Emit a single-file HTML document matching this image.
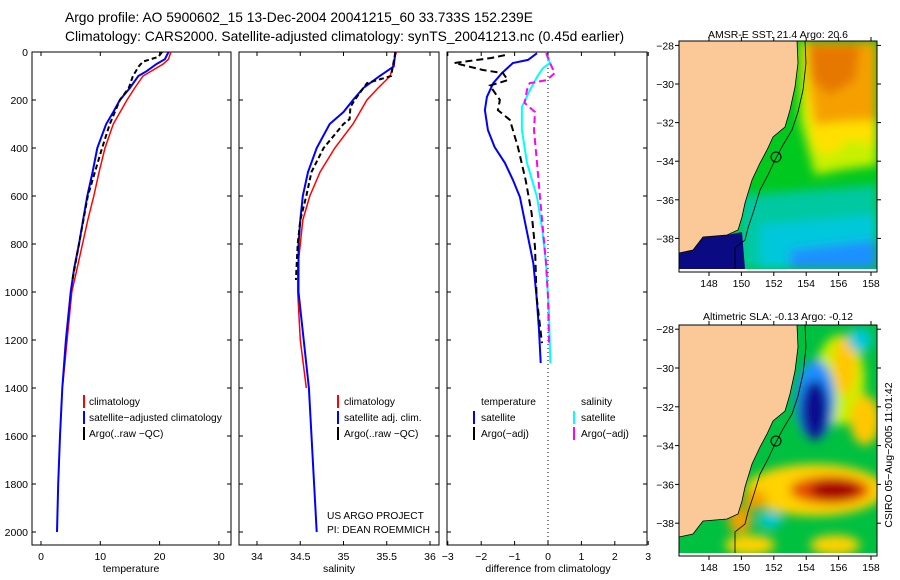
<!DOCTYPE html>
<html><head><meta charset="utf-8">
<style>
body{margin:0;background:#fff;}
svg{display:block;font-family:"Liberation Sans",sans-serif;}
.tk{font-size:10.5px;fill:#000;}
</style></head>
<body>
<svg id="s" width="900" height="580" viewBox="0 0 900 580">
<defs>
<clipPath id="c1"><rect x="679" y="41" width="198" height="228"/></clipPath>
<clipPath id="c2"><rect x="679" y="325" width="198" height="228"/></clipPath>
<filter id="bl" x="-20%" y="-20%" width="140%" height="140%"><feGaussianBlur stdDeviation="5"/></filter>
</defs>
<text x="65" y="22" font-size="13.8">Argo profile: AO 5900602_15 13-Dec-2004 20041215_60 33.733S 152.239E</text>
<text x="65" y="41" font-size="13.8">Climatology: CARS2000. Satellite-adjusted climatology: synTS_20041213.nc (0.45d earlier)</text>

<!-- Map 1 -->
<g>
<text x="778" y="38" font-size="10.5" text-anchor="middle">AMSR-E SST: 21.4 Argo: 20.6</text>
<g clip-path="url(#c1)">
<rect x="679" y="41" width="198" height="228" fill="#00c81e"/>
<g filter="url(#bl)">
<polygon points="740,195 877,185 877,269 740,269" fill="#00c8a0"/>
<polygon points="760,225 877,215 877,269 760,269" fill="#00c8dc"/>
<polygon points="790,250 877,240 877,269 790,269" fill="#1e90ff"/>
<polygon points="800,41 877,41 877,165 840,170 815,175 800,120" fill="#c8f000"/>
<polygon points="803,41 877,41 877,145 850,140 830,155 815,150 805,100" fill="#ffe000"/>
<polygon points="806,41 877,41 877,120 840,122 815,125 808,80" fill="#f5a000"/>
<polygon points="808,45 860,45 855,80 830,95 812,80" fill="#e67800"/>
</g>
<polygon points="679,253 693,250 703,237 727,235 742,232 745,269 679,269" fill="#0a0a82"/>
<polygon points="679,41 797,41 798,63 795,87 790,110 785,127 773,137 767,150 760,163 752,180 745,203 742,217 738,230 727,235 703,237 693,250 679,253" fill="#fbc998" stroke="#000" stroke-width="0.8"/>
<polyline points="805,41 806,63 803,90 798,112 792,130 783,145 775,160 768,175 760,190 754,210 748,228 745,240 735,248 735,269" fill="none" stroke="#000" stroke-width="0.8"/>
<circle cx="776" cy="157" r="5" fill="none" stroke="#000"/>
</g>
<rect x="679" y="41" width="198" height="231" fill="none" stroke="#000"/>
</g>

<!-- Map 2 -->
<g>
<text x="778" y="320" font-size="10.5" text-anchor="middle">Altimetric SLA: -0.13 Argo: -0.12</text>
<g clip-path="url(#c2)">
<rect x="679" y="325" width="198" height="228" fill="#00c040"/>
<g filter="url(#bl)">
<ellipse cx="840" cy="380" rx="25" ry="45" fill="#c8f000"/>
<ellipse cx="845" cy="365" rx="12" ry="30" fill="#ffc800"/>
<ellipse cx="865" cy="420" rx="15" ry="25" fill="#ffc800"/>
<ellipse cx="860" cy="340" rx="12" ry="12" fill="#00c8dc"/>
<ellipse cx="815" cy="400" rx="20" ry="40" fill="#1e90ff"/>
<ellipse cx="815" cy="410" rx="14" ry="30" fill="#0a0a90"/>
<ellipse cx="815" cy="490" rx="70" ry="26" fill="#ffd200"/>
<ellipse cx="830" cy="490" rx="40" ry="14" fill="#e65000"/>
<ellipse cx="835" cy="490" rx="25" ry="10" fill="#a50000"/>
<ellipse cx="740" cy="520" rx="12" ry="14" fill="#f0a000"/>
<ellipse cx="755" cy="500" rx="12" ry="10" fill="#f0a000"/>
<ellipse cx="770" cy="520" rx="12" ry="8" fill="#00c8dc"/>
<ellipse cx="750" cy="545" rx="25" ry="10" fill="#ffd200"/>
<ellipse cx="835" cy="545" rx="25" ry="10" fill="#ffd200"/>
</g>
<g transform="translate(0,284)">
<polygon points="679,41 797,41 798,63 795,87 790,110 785,127 773,137 767,150 760,163 752,180 745,203 742,217 738,230 727,235 703,237 693,250 679,253" fill="#fbc998" stroke="#000" stroke-width="0.8"/>
<polyline points="805,41 806,63 803,90 798,112 792,130 783,145 775,160 768,175 760,190 754,210 748,228 745,240 735,248 735,269" fill="none" stroke="#000" stroke-width="0.8"/>
<circle cx="776" cy="157" r="5" fill="none" stroke="#000"/>
</g>
</g>
<rect x="679" y="325" width="198" height="231" fill="none" stroke="#000"/>
</g>
<text transform="translate(892,455) rotate(-90)" font-size="10.5" text-anchor="middle">CSIRO 05−Aug−2005 11:01:42</text>

<!-- profile panels frames -->
<rect x="32" y="52" width="199" height="493" fill="none" stroke="#000"/>
<rect x="239" y="52" width="200" height="493" fill="none" stroke="#000"/>
<rect x="447" y="52" width="200" height="493" fill="none" stroke="#000"/>
<line x1="548" y1="52" x2="548" y2="545" stroke="#000" stroke-dasharray="1,3"/>
<text x="131" y="572" font-size="10.5" text-anchor="middle">temperature</text>
<text x="339" y="572" font-size="10.5" text-anchor="middle">salinity</text>
<text x="548" y="572" font-size="10.5" text-anchor="middle">difference from climatology</text>

<g font-size="10.2">
<line x1="84" y1="395" x2="84" y2="408" stroke="#f00" stroke-width="2"/><text x="89" y="405">climatology</text>
<line x1="84" y1="411" x2="84" y2="424" stroke="#00f" stroke-width="2"/><text x="89" y="421">satellite−adjusted climatology</text>
<line x1="84" y1="427" x2="84" y2="440" stroke="#000" stroke-width="2"/><text x="89" y="437">Argo(..raw −QC)</text>
</g>
<g font-size="10.2">
<line x1="338" y1="395" x2="338" y2="408" stroke="#f00" stroke-width="2"/><text x="344" y="405">climatology</text>
<line x1="338" y1="411" x2="338" y2="424" stroke="#00f" stroke-width="2"/><text x="344" y="421">satellite adj. clim.</text>
<line x1="338" y1="427" x2="338" y2="440" stroke="#000" stroke-width="2"/><text x="344" y="437">Argo(..raw −QC)</text>
</g>
<g font-size="10.2">
<text x="481" y="405">temperature</text>
<line x1="474" y1="411" x2="474" y2="424" stroke="#00f" stroke-width="2"/><text x="481" y="421">satellite</text>
<line x1="474" y1="427" x2="474" y2="440" stroke="#000" stroke-width="2"/><text x="481" y="437">Argo(−adj)</text>
<text x="581" y="405">salinity</text>
<line x1="574" y1="411" x2="574" y2="424" stroke="#0ff" stroke-width="2"/><text x="581" y="421">satellite</text>
<line x1="574" y1="427" x2="574" y2="440" stroke="#f0f" stroke-width="2"/><text x="581" y="437">Argo(−adj)</text>
</g>
<text x="327" y="519" font-size="10.2">US ARGO PROJECT</text>
<text x="327" y="533" font-size="10.2">PI: DEAN ROEMMICH</text>
<g id="dyn"></g>
</svg>
<script>
const depthTicks=[0,200,400,600,800,1000,1200,1400,1600,1800,2000];
const tempTicks=[0,10,20,30];
const salTicks=[34,34.5,35,35.5,36];
const salTickLabels=["34","34.5","35","35.5","36"];
const diffTicks=[-3,-2,-1,0,1,2,3];
const latTicks=[-28,-30,-32,-34,-36,-38];
const lonTicks=[148,150,152,154,156,158];

const tClimDepth=[0,30,50,100,150,200,300,400,500,600,700,800,900,1000,1200,1380];
const tClim=[21.9,21.5,20.6,17.2,15.8,14.5,12.2,10.8,9.8,8.9,7.9,7.0,6.1,5.2,4.4,3.7];
const tSatDepth=[0,30,50,80,100,150,200,250,300,400,500,600,700,800,900,1000,1200,1400,1600,1800,2000];
const tSat=[21.5,20.9,19.5,17.8,16.4,15.0,13.3,12.2,11.0,9.5,8.7,7.8,7.1,6.4,5.6,5.0,4.2,3.6,3.2,2.9,2.7];
const tArgoDepth=[0,20,40,60,100,150,200,300,400,600,800,950];
const tArgo=[20.4,19.8,17.2,16.5,15.5,14.8,13.3,11.6,10.3,7.9,6.4,5.3];

const sClimDepth=[0,100,150,200,300,400,500,600,700,800,900,1000,1200,1400];
const sClim=[35.61,35.54,35.40,35.27,35.11,34.90,34.73,34.61,34.53,34.50,34.47,34.47,34.50,34.57];
const sSatDepth=[0,60,100,150,200,250,300,400,500,600,700,800,1000,1200,1400,1600,1800,2000];
const sSat=[35.60,35.58,35.42,35.23,35.11,35.00,34.84,34.69,34.59,34.53,34.50,34.48,34.48,34.54,34.60,34.63,34.66,34.69];
const sArgoDepth=[0,100,130,150,200,230,280,300,400,500,600,700,800,950];
const sArgo=[35.60,35.55,35.27,35.23,35.13,35.08,35.07,35.0,34.77,34.63,34.57,34.50,34.47,34.45];

const dTSatDepth=[5,33,46,88,130,187,242,325,396,462,533,604,742,879,1021,1158,1296];
const dTSat=[-0.33,-0.6,-1.05,-1.38,-1.64,-1.83,-1.89,-1.8,-1.6,-1.29,-1.05,-0.84,-0.64,-0.44,-0.34,-0.27,-0.22];
const dTArgoDepth=[13,25,46,75,88,117,140,200,242,283,396,533,671,813,1021,1213];
const dTArgo=[-1.29,-1.7,-2.8,-1.95,-1.35,-1.2,-1.74,-1.44,-1.5,-1.14,-0.9,-0.67,-0.49,-0.39,-0.34,-0.18];
const dSSatDepth=[5,46,67,104,158,229,325,462,604,742,879,1088,1296];
const dSSat=[-0.06,0.06,-0.15,-0.33,-0.54,-0.78,-0.78,-0.63,-0.33,-0.17,-0.06,0.03,0.07];
const dSArgoDepth=[5,46,88,117,130,158,212,250,325,462,604,742,879,1021,1213];
const dSArgo=[-0.05,0.06,0.2,-0.04,-0.55,-0.63,-0.7,-0.39,-0.42,-0.33,-0.24,-0.15,-0.06,0.0,0.03];

const NS='http://www.w3.org/2000/svg';
const g=document.getElementById('dyn');
const yD=d=>52+d*0.24;
const xT=v=>41+v*5.93;
const xS=v=>257+(v-34)*86.5;
const xDf=v=>548+v*33.4;
const yLat1=l=>84+(-30-l)*19.3;
const yLat2=l=>368+(-30-l)*19.4;
const xLon=l=>709+(l-148)*16.2;
function mk(tag,at){const e=document.createElementNS(NS,tag);for(const k in at)e.setAttribute(k,at[k]);g.appendChild(e);return e;}
function line(ds,vs,fx,color,dash,w,name){
  const p=mk('polyline',{points:ds.map((d,i)=>fx(vs[i]).toFixed(1)+','+yD(d).toFixed(1)).join(' '),fill:'none',stroke:color,'stroke-width':w,'stroke-dasharray':dash});
  
  
}
const panels=[[32,231,tempTicks,tempTicks.map(String),xT],[239,439,salTicks,salTickLabels,xS],[447,647,diffTicks,diffTicks.map(String),xDf]];
panels.forEach((P,pi)=>{
  P[2].forEach((v,i)=>{const x=P[4](v);
    mk('line',{x1:x,y1:545,x2:x,y2:541,stroke:'#000'});mk('line',{x1:x,y1:52,x2:x,y2:56,stroke:'#000'});
    const t=mk('text',{x:x,y:560,'text-anchor':'middle',class:'tk'});t.textContent=P[3][i].replace('-','−');
    
    
  });
  depthTicks.forEach(d=>{const y=yD(d);
    mk('line',{x1:P[0],y1:y,x2:P[0]+4,y2:y,stroke:'#000'});mk('line',{x1:P[1]-4,y1:y,x2:P[1],y2:y,stroke:'#000'});
    if(pi===0){const t=mk('text',{x:28,y:y+4,'text-anchor':'end',class:'tk'});t.textContent=d;
      
      }
  });
});
[[yLat1,272,41],[yLat2,556,325]].forEach(M=>{
  latTicks.forEach(l=>{const y=M[0](l);
    mk('line',{x1:679,y1:y,x2:675,y2:y,stroke:'#000'});mk('line',{x1:877,y1:y,x2:881,y2:y,stroke:'#000'});
    const t=mk('text',{x:674,y:y+4,'text-anchor':'end',class:'tk'});t.textContent=String(l).replace('-','−');
    
    });
  lonTicks.forEach(l=>{const x=xLon(l);
    mk('line',{x1:x,y1:M[1],x2:x,y2:M[1]+4,stroke:'#000'});mk('line',{x1:x,y1:M[2],x2:x,y2:M[2]-4,stroke:'#000'});
    const t=mk('text',{x:x,y:M[1]+15,'text-anchor':'middle',class:'tk'});t.textContent=l;
    
    });
});
line(tClimDepth,tClim,xT,'#f00','',1.5,'temp-climatology-line');
line(tSatDepth,tSat,xT,'#00f','',2,'temp-satellite-line');
line(tArgoDepth,tArgo,xT,'#000','5,3',2,'temp-argo-line');
line(sClimDepth,sClim,xS,'#f00','',1.5,'sal-climatology-line');
line(sSatDepth,sSat,xS,'#00f','',2,'sal-satellite-line');
line(sArgoDepth,sArgo,xS,'#000','5,3',2,'sal-argo-line');
line(dTSatDepth,dTSat,xDf,'#00f','',2,'diff-temp-satellite-line');
line(dTArgoDepth,dTArgo,xDf,'#000','7,4',2,'diff-temp-argo-line');
line(dSSatDepth,dSSat,xDf,'#0ff','',2,'diff-sal-satellite-line');
line(dSArgoDepth,dSArgo,xDf,'#f0f','7,4',2,'diff-sal-argo-line');
</script>
</body></html>
